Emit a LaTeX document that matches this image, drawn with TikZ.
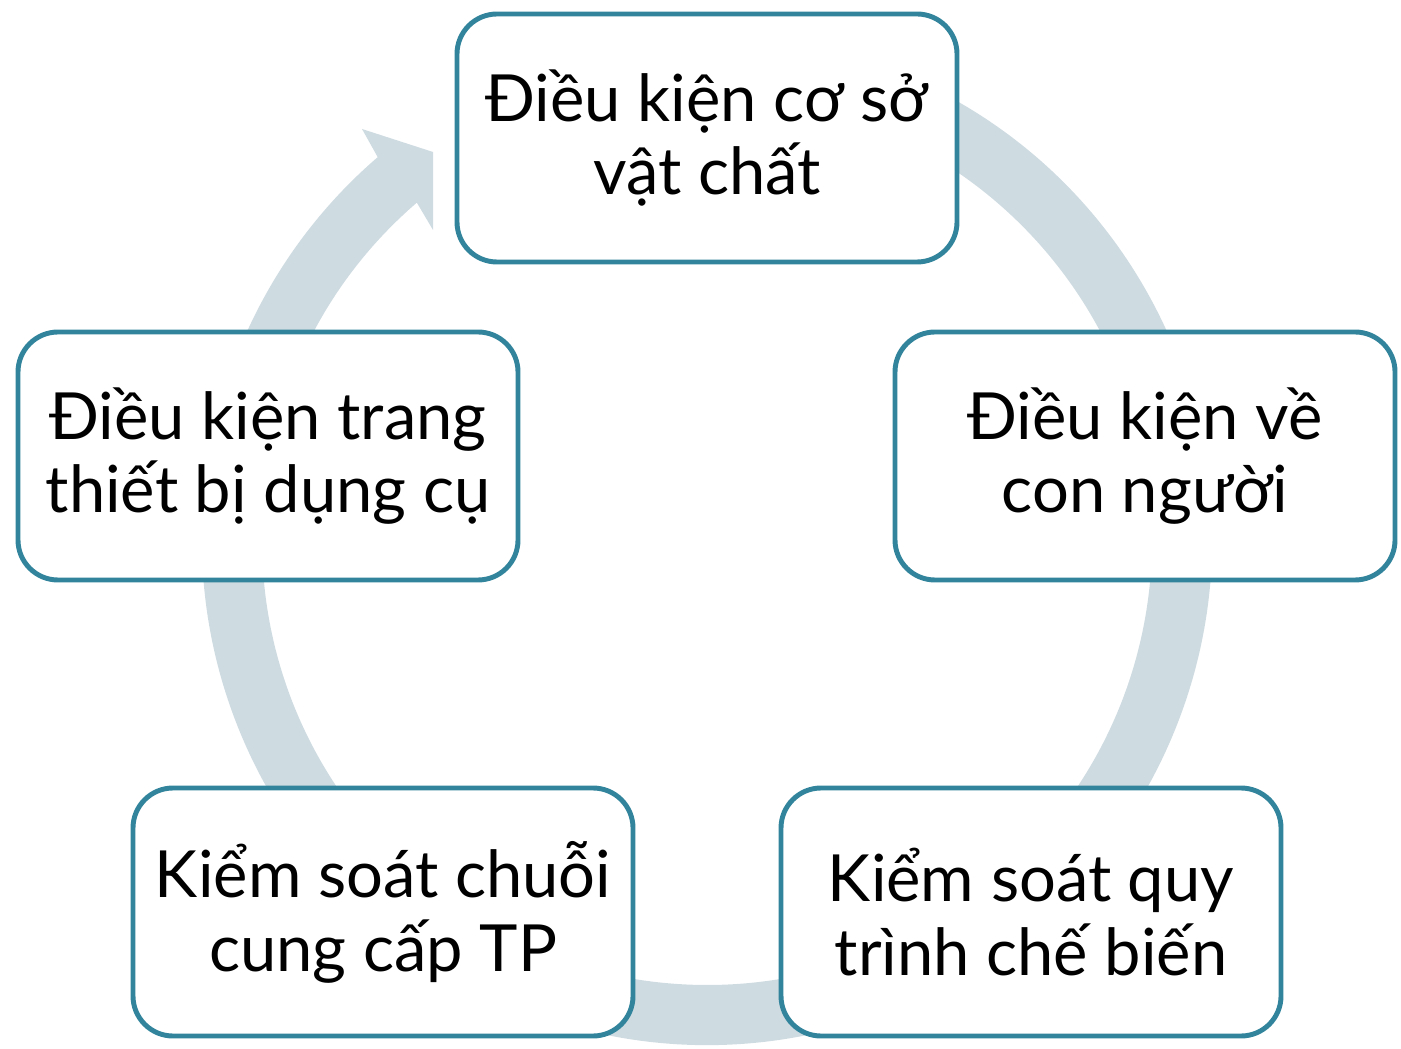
\documentclass[tikz,border=0pt]{standalone}
\usepackage{fontspec}
\setmainfont{Lato}
\usepackage{tikz}

\definecolor{boxline}{RGB}{49,132,155}
\definecolor{ringcol}{RGB}{206,219,225}

\begin{document}
\begin{tikzpicture}
	 [every node/.style={rectangle,draw=boxline,line width=1.4pt,fill=white,rounded corners=0.4cm,
	  minimum width=5cm,minimum height=2.48cm,align=center,font=\fontsize{18.5}{21}\selectfont}]
	\useasboundingbox (0,0) rectangle (14.01,-10.49);

%	ring with arrow head, behind the boxes
	\begin{scope}[shift={(7.07,-5.40)}]
	  \fill[ringcol] (70:5.05) arc[start angle=70,end angle=-229.3,radius=5.05]
	    -- (-3.45,4.11) -- (-2.74,3.88) -- (-2.74,3.10)
	    -- (-229.3:4.45) arc[start angle=-229.3,end angle=70,radius=4.45] -- cycle;
	\end{scope}

	  \node (top) at (7.07,-1.38) {Điều kiện cơ sở\\vật chất};
	  \node (right) at (11.45,-4.56) {Điều kiện về\\con người};
	  \node (bright) at (10.31,-9.12) {Kiểm soát quy\\trình chế biến};
	  \node (bleft) at (3.83,-9.12) {Kiểm soát chuỗi\\cung cấp TP};
	  \node (left) at (2.68,-4.56) {Điều kiện trang\\thiết bị dụng cụ};

\end{tikzpicture}
\end{document}
